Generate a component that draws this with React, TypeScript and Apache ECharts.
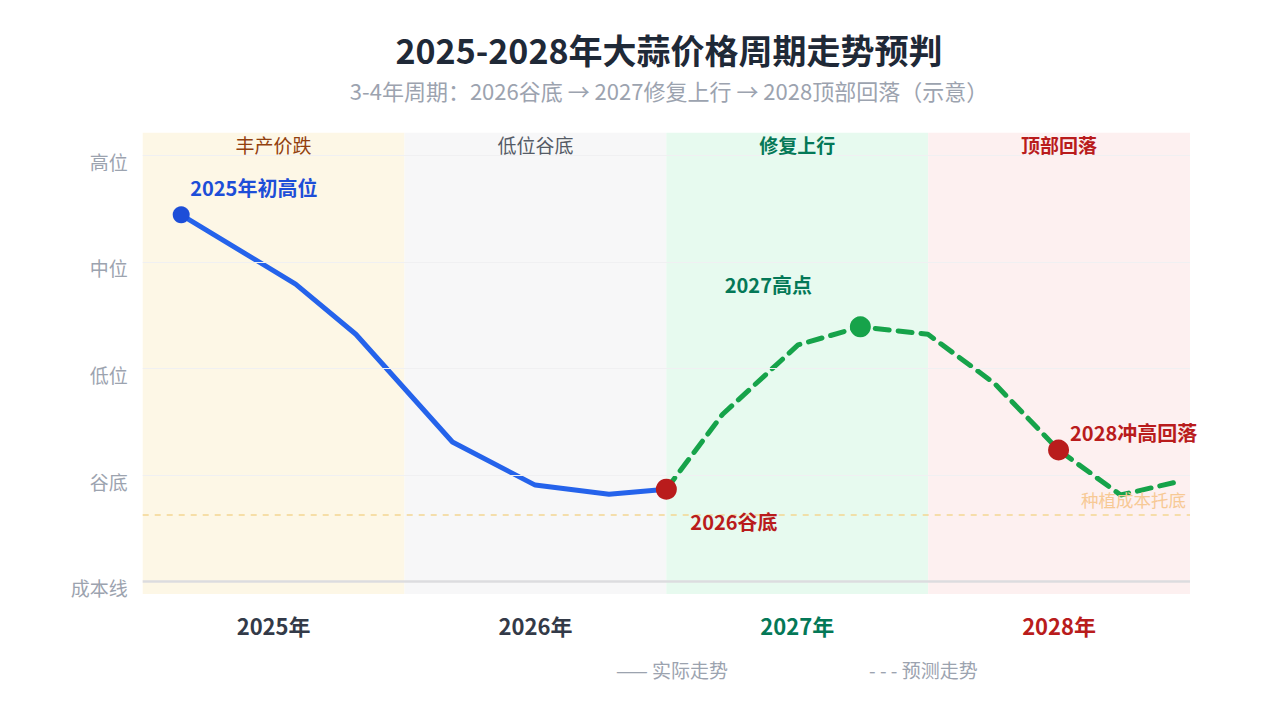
import * as echarts from 'echarts';
import React, { useEffect, useRef } from 'react';

// 年份与阶段
const years = ['2025年', '2026年', '2027年', '2028年'];
const phases = ['丰产价跌', '低位谷底', '修复上行', '顶部回落'];
const levelNames = ['成本线', '谷底', '低位', '中位', '高位'];

// 实际走势（x 以年为单位，y 以价位档为单位）
const actualX = [0.147, 0.584, 0.814, 1.183, 1.499, 1.781, 2.0];
const actualY = [3.44, 2.79, 2.32, 1.31, 0.906, 0.82, 0.868];

// 预测走势
const forecastX = [2.0, 2.215, 2.503, 2.741, 2.999, 3.253, 3.498, 3.735, 3.969];
const forecastY = [0.868, 1.57, 2.22, 2.39, 2.32, 1.86, 1.235, 0.813, 0.947];

const costSupport = 0.632;

const phaseBg = ['#fdf7e6', '#f7f7f8', '#e7faef', '#fdf0f0'];
const phaseColor = ['#92400e', '#555b66', '#047857', '#b91c1c'];
const phaseBold = ['normal', 'normal', 'bold', 'bold'];
const yearColor = ['#333a48', '#333a48', '#047857', '#b91c1c'];

const App: React.FC = () => {
  const chartRef = useRef<HTMLDivElement>(null);

  useEffect(() => {
    if (!chartRef.current) return;
    const chart = echarts.init(chartRef.current, undefined, { renderer: 'svg' });

    const font = '"Noto Sans CJK SC", "Noto Sans", sans-serif';

    const option: echarts.EChartsOption = {
      animation: false,
      textStyle: { fontFamily: font },
      title: {
        text: '2025-2028年大蒜价格周期走势预判',
        subtext: '3-4年周期：2026谷底 → 2027修复上行 → 2028顶部回落（示意）',
        left: 664,
        textAlign: 'center',
        top: 27,
        itemGap: 13,
        textStyle: { fontSize: 34, fontWeight: 'bold', color: '#1f2937', fontFamily: font },
        subtextStyle: { fontSize: 22, color: '#9ca3af', fontFamily: font },
      },
      legend: {
        data: ['实际走势', '预测走势'],
        left: 606,
        top: 655,
        icon: 'none',
        itemWidth: 0,
        itemGap: 136,
        textStyle: { fontSize: 19, color: '#9ca3af' },
        formatter: (name: string) => (name === '实际走势' ? '—— ' : '- - - ') + name,
      },
      grid: { left: 142.7, right: 90, top: 132.7, bottom: 116 },
      xAxis: [
        {
          type: 'value',
          min: 0,
          max: 4,
          show: false,
        },
        {
          type: 'category',
          data: years,
          position: 'bottom',
          axisLine: { show: false },
          axisTick: { show: false },
          axisLabel: {
            margin: 20,
            fontSize: 22,
            fontWeight: 'bold',
            color: (_v: any, i: number) => yearColor[i],
          },
        },
      ],
      yAxis: {
        type: 'value',
        min: -0.115,
        max: 4.21,
        axisLine: { show: false },
        axisTick: { show: false },
        axisLabel: { show: false },
        splitLine: { show: false },
      },
      series: [
        {
          name: '背景',
          type: 'line',
          data: [],
          markArea: {
            silent: true,
            data: phases.map((p, i) => [
              {
                xAxis: i,
                yAxis: -0.115,
                itemStyle: { color: phaseBg[i] },
                label: {
                  show: true,
                  position: 'insideTop',
                  distance: 2,
                  formatter: p,
                  fontSize: 19,
                  color: phaseColor[i],
                  fontWeight: phaseBold[i] as any,
                },
              },
              { xAxis: i + 1, yAxis: 4.21 },
            ]) as any,
          },
          markLine: {
            silent: true,
            symbol: 'none',
            data: levelNames.map((n, i) => ({
              yAxis: i,
              lineStyle: {
                color: i === 0 ? '#dcdcdf' : '#f0f0f2',
                width: i === 0 ? 2.5 : 1,
                type: 'solid',
              },
              label: {
                show: true,
                position: 'start',
                distance: 15,
                offset: [0, 6],
                formatter: n,
                fontSize: 19,
                color: '#9ca3af',
              },
            })) as any,
          },
        },
        {
          name: '成本托底',
          type: 'line',
          data: [],
          markLine: {
            silent: true,
            symbol: 'none',
            data: [
              {
                yAxis: costSupport,
                lineStyle: { color: '#f3d693', width: 1.5, type: [6, 6] },
                label: {
                  show: true,
                  position: 'insideEndTop',
                  distance: [4, 6],
                  formatter: '种植成本托底',
                  fontSize: 17.5,
                  color: '#f7c995',
                },
              },
            ] as any,
          },
        },
        {
          name: '实际走势',
          type: 'line',
          data: actualX.map((x, i) => [x, actualY[i]]),
          showSymbol: false,
          symbol: 'none',
          lineStyle: { color: '#2563eb', width: 5 },
          itemStyle: { color: '#2563eb' },
          z: 3,
        },
        {
          name: '预测走势',
          type: 'line',
          data: forecastX.map((x, i) => [x, forecastY[i]]),
          showSymbol: false,
          symbol: 'none',
          lineStyle: { color: '#16a34a', width: 5, type: [14, 9], cap: 'round' },
          itemStyle: { color: '#16a34a' },
          z: 3,
        },
        {
          name: '关键点',
          type: 'scatter',
          z: 5,
          itemStyle: { opacity: 1 },
          data: [
            {
              value: [actualX[0], actualY[0]],
              symbolSize: 17,
              itemStyle: { color: '#1d4ed8', opacity: 1 },
              label: {
                show: true,
                position: 'top',
                align: 'left',
                offset: [9, -4],
                formatter: '2025年初高位',
                fontSize: 20,
                fontWeight: 'bold',
                color: '#1d4ed8',
              },
            },
            {
              value: [actualX[6], actualY[6]],
              symbolSize: 21,
              itemStyle: { color: '#b91c1c', opacity: 1 },
              label: {
                show: true,
                position: 'bottom',
                align: 'left',
                offset: [24, 7],
                formatter: '2026谷底',
                fontSize: 20,
                fontWeight: 'bold',
                color: '#b91c1c',
              },
            },
            {
              value: [forecastX[3], forecastY[3]],
              symbolSize: 21,
              itemStyle: { color: '#16a34a', opacity: 1 },
              label: {
                show: true,
                position: 'top',
                offset: [-92, -17],
                formatter: '2027高点',
                fontSize: 20,
                fontWeight: 'bold',
                color: '#047857',
              },
            },
            {
              value: [forecastX[6], forecastY[6]],
              symbolSize: 21,
              itemStyle: { color: '#b91c1c', opacity: 1 },
              label: {
                show: true,
                position: 'right',
                offset: [-4, -18],
                formatter: '2028冲高回落',
                fontSize: 20,
                fontWeight: 'bold',
                color: '#b91c1c',
              },
            },
          ],
        },
      ],
    };

    chart.setOption(option);

    const handleResize = () => chart.resize();
    window.addEventListener('resize', handleResize);
    return () => {
      window.removeEventListener('resize', handleResize);
      chart.dispose();
    };
  }, []);

  return (
    <div
      ref={chartRef}
      style={{ position: 'fixed', left: 0, top: 0, width: '1280px', height: '710px', background: '#fff' }}
    />
  );
};

export default App;
